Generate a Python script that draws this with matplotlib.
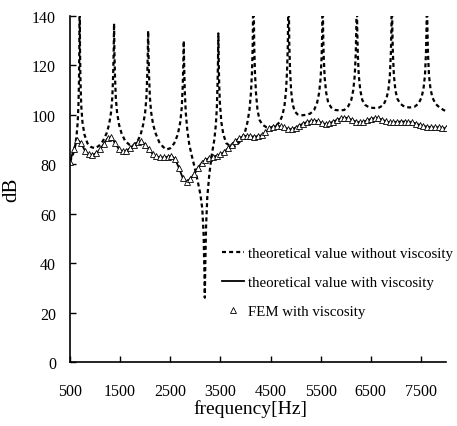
import numpy as np
import matplotlib
matplotlib.use("Agg")
import matplotlib.pyplot as plt

plt.rcParams['font.family'] = ['Liberation Serif', 'DejaVu Serif']

# theoretical response without viscosity (sharp resonances)
freq_novisc = [
    500, 560, 600, 630, 655, 670, 680, 688, 694, 700, 710, 725, 750, 790, 850, 920, 1000,
    1080, 1160, 1230, 1280, 1320, 1345, 1362, 1373, 1380, 1387, 1398, 1415, 1440, 1480, 1530, 1600, 1680,
    1760, 1840, 1910, 1960, 2000, 2025, 2042, 2053, 2060, 2067, 2078, 2095, 2120, 2160, 2210, 2280, 2360, 2430,
    2500, 2580, 2650, 2700, 2730, 2750, 2762, 2770, 2778, 2790, 2810, 2840, 2880, 2930, 2990, 3050, 3100,
    3140, 3165, 3180, 3190, 3200, 3215, 3240, 3280, 3330,
    3380, 3410, 3430, 3443, 3453, 3460, 3467, 3477, 3490, 3520, 3560, 3620, 3690, 3760,
    3840, 3920, 3990, 4040, 4080, 4110, 4130, 4145, 4155, 4160, 4165, 4175, 4190, 4210, 4240, 4280, 4340, 4420, 4510,
    4600, 4680, 4740, 4780, 4810, 4830, 4845, 4855, 4860, 4865, 4875, 4890, 4910, 4940, 4980, 5040, 5110, 5200,
    5290, 5370, 5430, 5470, 5500, 5520, 5532, 5540, 5548, 5560, 5580, 5610, 5650, 5710, 5790, 5880,
    5970, 6050, 6110, 6150, 6180, 6200, 6212, 6220, 6228, 6240, 6260, 6290, 6330, 6390, 6470, 6570,
    6670, 6750, 6810, 6850, 6880, 6900, 6912, 6920, 6928, 6940, 6960, 6990, 7030, 7090, 7170, 7270,
    7370, 7450, 7510, 7550, 7580, 7600, 7612, 7620, 7628, 7640, 7660, 7690, 7730, 7790, 7870, 7950, 8000,
]
db_novisc = [
    81, 84, 87, 91, 97, 104, 113, 126, 160, 128, 114, 104, 97, 92, 88.5, 87, 86.5,
    87.5, 89.5, 92.5, 96, 101, 107, 116, 126, 137, 126, 116, 107, 101, 96, 92.5, 89.5, 88,
    87.5, 89, 92, 96, 101, 107, 116, 125, 134, 125, 116, 107, 101, 96, 92.5, 89, 87, 86,
    86.5, 88.5, 92, 97, 103, 112, 121, 130, 120, 110, 101, 94, 88, 83.5, 78.5, 73, 68,
    62, 52, 38, 26, 40, 55, 67, 76, 84,
    90, 96, 103, 112, 122, 133, 122, 112, 105, 97, 92, 88.5, 87.5, 87,
    88, 90, 93, 97, 102, 109, 117, 128, 145, 165, 145, 128, 117, 109, 102, 98, 96, 95, 94.8,
    95.5, 97, 100, 104, 110, 118, 128, 145, 165, 145, 128, 118, 110, 104.5, 101.5, 100.2, 99.8, 100,
    100.5, 102, 105, 109, 115, 124, 135, 165, 135, 124, 115, 109, 105, 103, 102, 101.8,
    102, 103.5, 106, 110, 116, 125, 136, 165, 136, 125, 116, 110, 106, 104, 103, 102.8,
    103, 104, 106.5, 110, 116, 125, 136, 165, 136, 125, 116, 110, 106.5, 104.5, 103.3, 103,
    103.3, 104.5, 107, 110.5, 116, 125, 136, 165, 136, 125, 116, 110.5, 107, 104.5, 103, 102, 101.5,
]

# theoretical response with viscosity, 75 Hz steps from 500 Hz
freq_visc = np.arange(500, 8001, 75)
db_visc = [
    81, 86, 90, 88.5, 85.5, 84, 83.8, 84.5, 86, 88.3,
    90.5, 91, 88.5, 86.2, 85.2, 85.5, 86.5, 88, 89, 89.3,
    88, 86, 84.2, 83.2, 82.8, 82.8, 83, 83.5, 82, 78.5,
    74.5, 73, 74.1, 76, 78.5, 80.5, 81.8, 82.5, 83, 83.5,
    84, 85, 86.5, 88, 89.5, 90.5, 91.4, 91.5, 91.3, 91.2,
    91.4, 91.8, 93, 94.5, 95.3, 95.5, 95.4, 95, 94.3, 94.2,
    94.8, 95.7, 96.5, 97.1, 97.5, 97.7, 97.5, 96.7, 96.3, 96.6,
    97.3, 98, 98.6, 98.9, 98.6, 98, 97.3, 97, 97.2, 97.8,
    98.4, 98.7, 98.6, 98.1, 97.4, 97, 97, 97.2, 97.3, 97.3,
    97.2, 97, 96.5, 96, 95.5, 95.2, 95, 95, 95, 94.8,
    94.5,
]
# FEM results with viscosity at the same frequencies
db_fem = list(db_visc)

xticks = [500, 1500, 2500, 3500, 4500, 5500, 6500, 7500]
yticks = [0, 20, 40, 60, 80, 100, 120, 140]

fig = plt.figure(figsize=(4.57, 4.27), dpi=100)
ax = fig.add_axes([0.153, 0.150, 0.823, 0.810])

ax.plot(freq_novisc, db_novisc, color='black', lw=1.6, dashes=(1.8, 1.4),
        label='theoretical value without viscosity')
ax.plot(freq_visc, db_visc, color='black', lw=1.3,
        label='theoretical value with viscosity')
ax.plot(freq_visc, db_fem, ls='none', marker='^', ms=4.0, mfc='white',
        mec='black', mew=0.6, label='FEM with viscosity')

ax.set_xlim(500, 8000)
ax.set_ylim(0, 140)
ax.set_xticks(xticks)
ax.set_yticks(yticks)
ax.tick_params(direction='in', length=4, width=1, labelsize=11.5)
ax.tick_params(axis='x', pad=15)
ax.tick_params(axis='y', pad=10)
ax.spines['top'].set_visible(False)
ax.spines['right'].set_visible(False)
for s in ('left', 'bottom'):
    ax.spines[s].set_linewidth(1.2)

ax.set_xlabel('frequency[Hz]', fontsize=14)
ax.xaxis.set_label_coords(0.479, -0.108)
ax.set_ylabel('dB', fontsize=15, labelpad=8)

leg = ax.legend(loc='upper left', bbox_to_anchor=(0.404, 0.334), frameon=False,
                fontsize=10.7, handlelength=1.5, handletextpad=0.27,
                labelspacing=1.05, numpoints=1, borderaxespad=0, borderpad=0)

fig.savefig('out.png', dpi=100)
